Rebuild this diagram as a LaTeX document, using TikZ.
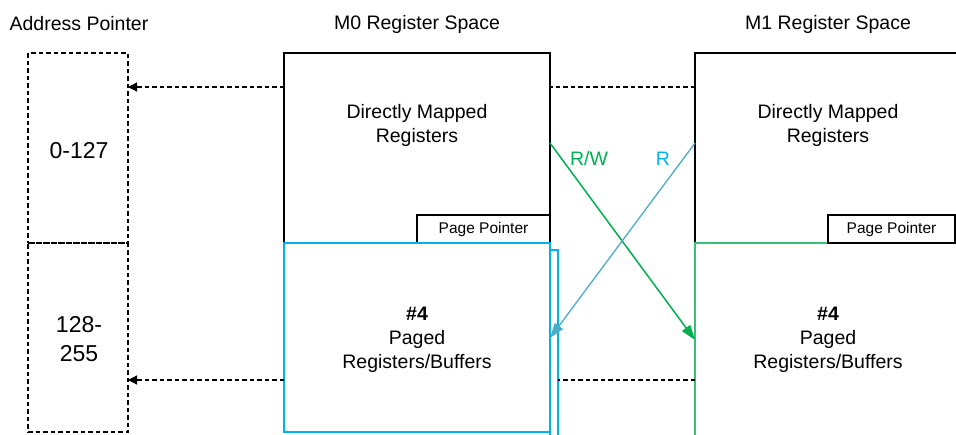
\documentclass[tikz,border=0pt]{standalone}
\usepackage{fontspec}
\setmainfont{Liberation Sans}
\usetikzlibrary{arrows.meta}
\definecolor{pgreen}{RGB}{0,176,80}
\definecolor{pgreenl}{RGB}{60,190,120}
\definecolor{pblue}{RGB}{0,176,240}
\definecolor{parrow}{RGB}{75,172,198}
\begin{document}
\begin{tikzpicture}[x=1pt,y=-1pt,
  box/.style={draw, line width=1.2pt, inner sep=0pt, outer sep=0pt, anchor=north west},
  dbox/.style={box, dash pattern=on 4.5pt off 3pt},
  lbl/.style={font=\fontsize{19.5}{24}\selectfont, align=center, inner sep=0pt},
  big/.style={font=\fontsize{23}{28.5}\selectfont, align=center},
  pp/.style={box, fill=white, font=\fontsize{15.5}{18}\selectfont},
  dline/.style={line width=1.2pt, dash pattern=on 4.5pt off 3pt},
  darrow/.style={dline, -{Triangle[length=9pt,width=9pt]}},
  carrow/.style={line width=1.5pt, -{Triangle[length=15pt,width=10pt]}}]
\useasboundingbox (0,0) rectangle (956,434);
% titles
\node[lbl] (tap) at (79,24) {Address Pointer};
\node[lbl] (tm0) at (417,24) {M0 Register Space};
\node[lbl] (tm1) at (828,24) {M1 Register Space};
% address pointer
\node[dbox, minimum width=100pt, minimum height=190pt] (ap1) at (28,53) {};
\node[dbox, minimum width=100pt, minimum height=189pt] (ap2) at (28,243) {};
\node[big] (ap1t) at (79,151) {0-127};
\node[big] (ap2t) at (79,339) {128-\\255};
% M0
\node[box, minimum width=266pt, minimum height=190pt] (m0top) at (284,53) {};
\node[lbl] (m0dm) at (417,125) {Directly Mapped\\Registers};
\node[pp, minimum width=133pt, minimum height=28pt] (pp0) at (417,215) {\raisebox{-1pt}{Page Pointer}};
\node[box, draw=pblue, minimum width=8pt, minimum height=200pt] (m0sh) at (550,250) {};
\node[box, draw=pblue, fill=white, minimum width=266pt, minimum height=189pt] (m0pg) at (284,243) {};
\node[lbl] (m0pt) at (417,340) {\textbf{\#4}\\Paged\\Registers/Buffers};
% M1
\node[box, minimum width=280pt, minimum height=190pt] (m1top) at (695,53) {};
\node[lbl] (m1dm) at (828,125) {Directly Mapped\\Registers};
\node[box, draw=pgreenl, minimum width=280pt, minimum height=200pt] (m1pg) at (695,243) {};
\node[pp, minimum width=127pt, minimum height=28pt] (pp1) at (828,215) {\raisebox{-1pt}{Page Pointer}};
\node[lbl] (m1pt) at (828,340) {\textbf{\#4}\\Paged\\Registers/Buffers};
% helper rows
\coordinate (y1) at (0,87);
\coordinate (y2) at (0,380);
\coordinate (y3) at (0,143);
\coordinate (y4) at (0,340);
\coordinate (y5) at (0,338);
% dashed connectors
\draw[darrow] (m0top.west |- y1) -- (ap1.east |- y1);
\draw[dline] (m1top.west |- y1) -- (m0top.east |- y1);
\draw[darrow] (m0pg.west |- y2) -- (ap2.east |- y2);
\draw[dline] (m1pg.west |- y2) -- (m0sh.east |- y2);
% cross arrows
\draw[carrow, pgreen] (m0top.east |- y3) -- (m1pg.west |- y4);
\draw[carrow, parrow, line width=1.3pt] (m1top.west |- y3) -- (m0pg.east |- y5);
\node[lbl, text=pgreen] (rw) at (589,159) {R/W};
\node[lbl, text=pblue] (rr) at (663,159) {R};
\end{tikzpicture}
\end{document}
